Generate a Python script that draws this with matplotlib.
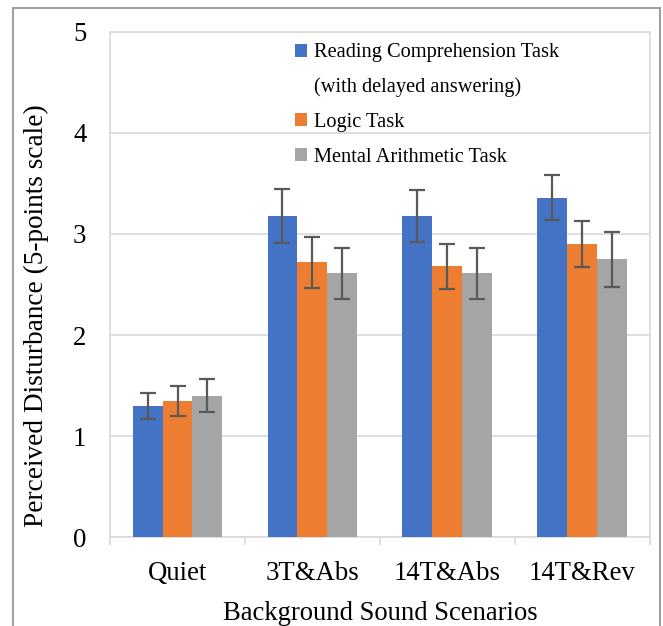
import matplotlib.pyplot as plt
import matplotlib.patches as patches
import numpy as np

plt.rcParams['font.family'] = ['Liberation Serif', 'DejaVu Serif']

scenarios = ["Quiet", "3T&Abs", "14T&Abs", "14T&Rev"]
series_names = ["Reading Comprehension Task",
                "Logic Task",
                "Mental Arithmetic Task"]
# second line of the first legend entry
name_extra = "(with delayed answering)"

reading = [1.30, 3.18, 3.18, 3.36]
reading_err = [0.13, 0.27, 0.26, 0.225]
logic = [1.35, 2.72, 2.68, 2.90]
logic_err = [0.15, 0.25, 0.225, 0.23]
mental = [1.40, 2.61, 2.61, 2.75]
mental_err = [0.16, 0.255, 0.255, 0.27]

colors = ["#4472C4", "#ED7D31", "#A5A5A5"]
grid_col = "#D9D9D9"

fig = plt.figure(figsize=(6.63, 6.26), dpi=100)
ax = fig.add_axes([0.166, 0.142, 0.814, 0.807])

x = np.arange(len(scenarios))
w = 0.222
values = [reading, logic, mental]
errs = [reading_err, logic_err, mental_err]
bars = []
for i in range(3):
    b = ax.bar(x + (i - 1) * w, values[i], w, color=colors[i], label=series_names[i],
               yerr=errs[i], capsize=5.5,
               error_kw=dict(ecolor="#595959", elinewidth=1.6, capthick=1.6), zorder=3)
    bars.append(b)

ax.set_ylim(0, 5)
ax.set_xlim(-0.5, 3.5)
ax.set_yticks(range(6))
ax.yaxis.grid(True, color=grid_col, linewidth=1.2, zorder=0)
ax.set_axisbelow(True)
for s in ax.spines.values():
    s.set_color(grid_col)
    s.set_linewidth(1.2)

ax.set_xticks(x)
ax.set_xticklabels(scenarios)
ax.set_xticks(np.arange(-0.5, 4, 1), minor=True)
ax.tick_params(axis='x', which='major', length=0, labelsize=19.3, pad=17)
ax.tick_params(axis='x', which='minor', length=6, color=grid_col, width=1.2)
ax.tick_params(axis='y', length=0, labelsize=19.3, pad=17)

ax.set_xlabel("Background Sound Scenarios", fontsize=19.2, va='center')
ax.xaxis.set_label_coords(0.5, -0.151)
ax.set_ylabel("Perceived Disturbance (5-points scale)", fontsize=19.6, va='center')
ax.yaxis.set_label_coords(-0.137, 0.438)

blank = patches.Patch(color='none')
handles = [bars[0], blank, bars[1], bars[2]]
labels = [series_names[0], name_extra, series_names[1], series_names[2]]
leg = ax.legend(handles, labels, loc='upper left', bbox_to_anchor=(0.309, 1.014),
                frameon=False, fontsize=14.7, handlelength=0.6, handleheight=0.6,
                handletextpad=0.3, labelspacing=0.76)

fig.patches.append(patches.Rectangle((13 / 663, -0.05), 647 / 663, 1 - 8 / 626 + 0.05,
                                     transform=fig.transFigure, fill=False,
                                     edgecolor="#A0A0A0", linewidth=1.5))

fig.savefig("out.png", dpi=100)
